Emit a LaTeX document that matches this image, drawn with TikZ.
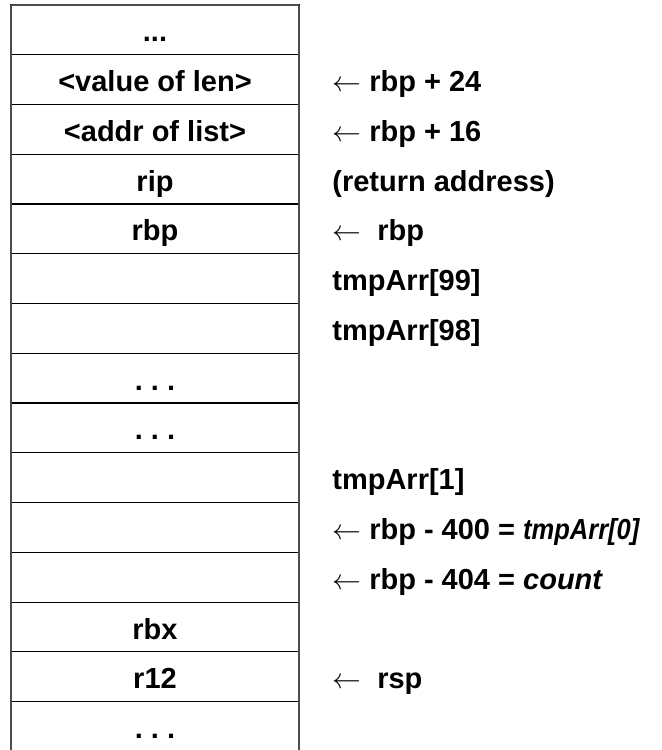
\documentclass[tikz,border=0pt]{standalone}
\usepackage{graphicx}
\usepackage{fontspec}
\setmainfont{Liberation Sans}
\begin{document}
\begin{tikzpicture}[x=0.5pt,y=-0.5pt,
  cell/.style={draw=black, line width=0.6pt, minimum width=144pt, minimum height=24.88pt,
    inner sep=0pt, text height=12pt, text depth=0pt, font=\fontsize{14.5}{17}\selectfont\bfseries},
  lab/.style={anchor=base west, inner sep=0pt, font=\fontsize{14.5}{17}\selectfont\bfseries},
  side/.style={draw=black!70, line width=1pt}]
\clip (0,0) rectangle (661,750);
\fill[white] (0,0) rectangle (661,750);
\def\rh{49.76}
\foreach \k/\t in {0/{...},1/{<value of len>},2/{<addr of list>},3/{rip},4/{rbp},5/{},6/{},7/{.\ .\ .},8/{.\ .\ .},9/{},10/{},11/{},12/{rbx},13/{r12},14/{.\ .\ .}}{
  \node[cell] (c\k) at (155,{5+\rh*(\k+0.5)}) {\t};
}
\coordinate (tl) at (11,5);
\coordinate (tr) at (299,5);
\coordinate (bl) at (11,760);
\coordinate (br) at (299,760);
\draw[side] (tl) -- (bl);
\draw[side] (tr) -- (br);
\draw[side] (tl) -- (tr);
\foreach \k/\t in {1/{$\leftarrow$ rbp + 24},2/{$\leftarrow$ rbp + 16},3/{(return address)},4/{$\leftarrow$\ \ rbp},5/{tmpArr[99]},6/{tmpArr[98]},9/{tmpArr[1]},10/{$\leftarrow$ rbp - 400 = \scalebox{0.88}[1]{\textit{tmpArr[0]}}},11/{$\leftarrow$ rbp - 404 = \textit{count}},13/{$\leftarrow$\ \ rsp}}{
  \node[lab] (l\k) at (332,{5+\rh*(\k+0.5)+12}) {\t};
}
\end{tikzpicture}
\end{document}
